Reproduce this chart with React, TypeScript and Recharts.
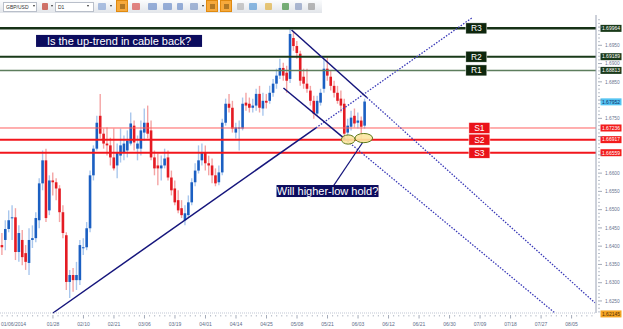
import React from 'react';
import { ComposedChart, Bar, XAxis, YAxis, ReferenceLine, ReferenceDot } from 'recharts';

// GBP/USD daily, trading day index 0 = 01/06/2014 (first candle is index 1)
const opens = [
  1.6403, 1.6417, 1.6447, 1.6477, 1.6479, 1.6384, 1.6417, 1.6381, 1.6354, 1.6417,
  1.6422, 1.6471, 1.6572, 1.6635, 1.6498, 1.6580, 1.6575, 1.6558, 1.6493, 1.6430,
  1.6302, 1.6321, 1.6307, 1.6307, 1.6395, 1.6397, 1.6449, 1.6594, 1.6667, 1.6757,
  1.6708, 1.6681, 1.6676, 1.6643, 1.6621, 1.6648, 1.6657, 1.6662, 1.6681, 1.6730,
  1.6667, 1.6667, 1.6711, 1.6738, 1.6717, 1.6643, 1.6621, 1.6613, 1.6621, 1.6643,
  1.6588, 1.6558, 1.6526, 1.6504, 1.6471, 1.6485, 1.6520, 1.6575, 1.6607, 1.6635,
  1.6657, 1.6627, 1.6621, 1.6594, 1.6575, 1.6602, 1.6738, 1.6790, 1.6779, 1.6711,
  1.6722, 1.6722, 1.6793, 1.6790, 1.6779, 1.6785, 1.6817, 1.6777, 1.6798, 1.6798,
  1.6820, 1.6845, 1.6867, 1.6888, 1.6875, 1.6858, 1.6970, 1.6948, 1.6927, 1.6864,
  1.6845, 1.6826, 1.6798, 1.6763, 1.6793, 1.6831, 1.6886, 1.6864, 1.6839, 1.6820,
  1.6804, 1.6790, 1.6711, 1.6727, 1.6757, 1.6738, 1.6744, 1.6730,
];
const highs = [
  1.6436, 1.6471, 1.6498, 1.6512, 1.6504, 1.6457, 1.6444, 1.6403, 1.6449, 1.6457,
  1.6493, 1.6586, 1.6662, 1.6667, 1.6594, 1.6602, 1.6586, 1.6567, 1.6512, 1.6438,
  1.6335, 1.6340, 1.6357, 1.6417, 1.6422, 1.6466, 1.6607, 1.6676, 1.6757, 1.6817,
  1.6722, 1.6725, 1.6697, 1.6722, 1.6681, 1.6722, 1.6703, 1.6717, 1.6766, 1.6744,
  1.6703, 1.6744, 1.6777, 1.6785, 1.6744, 1.6662, 1.6654, 1.6648, 1.6667, 1.6662,
  1.6607, 1.6580, 1.6553, 1.6526, 1.6512, 1.6539, 1.6586, 1.6627, 1.6676, 1.6681,
  1.6676, 1.6648, 1.6640, 1.6613, 1.6621, 1.6749, 1.6804, 1.6817, 1.6798, 1.6738,
  1.6744, 1.6807, 1.6820, 1.6807, 1.6804, 1.6831, 1.6839, 1.6820, 1.6817, 1.6839,
  1.6858, 1.6886, 1.6913, 1.6902, 1.6894, 1.6995, 1.6989, 1.6962, 1.6935, 1.6886,
  1.6886, 1.6839, 1.6812, 1.6812, 1.6831, 1.6913, 1.6916, 1.6880, 1.6853, 1.6839,
  1.6826, 1.6804, 1.6749, 1.6771, 1.6777, 1.6766, 1.6755, 1.6804,
];
const lows = [
  1.6376, 1.6389, 1.6438, 1.6417, 1.6362, 1.6357, 1.6348, 1.6335, 1.6321, 1.6395,
  1.6411, 1.6449, 1.6553, 1.6466, 1.6485, 1.6539, 1.6526, 1.6466, 1.6422, 1.6280,
  1.6258, 1.6275, 1.6280, 1.6294, 1.6376, 1.6389, 1.6438, 1.6580, 1.6662, 1.6695,
  1.6667, 1.6648, 1.6621, 1.6607, 1.6586, 1.6629, 1.6635, 1.6643, 1.6676, 1.6662,
  1.6635, 1.6648, 1.6689, 1.6695, 1.6635, 1.6594, 1.6567, 1.6580, 1.6613, 1.6580,
  1.6539, 1.6512, 1.6490, 1.6477, 1.6457, 1.6477, 1.6512, 1.6564, 1.6599, 1.6621,
  1.6607, 1.6594, 1.6572, 1.6564, 1.6567, 1.6594, 1.6730, 1.6766, 1.6711, 1.6695,
  1.6662, 1.6717, 1.6771, 1.6766, 1.6766, 1.6771, 1.6766, 1.6757, 1.6777, 1.6790,
  1.6809, 1.6831, 1.6858, 1.6853, 1.6820, 1.6847, 1.6935, 1.6913, 1.6839, 1.6831,
  1.6820, 1.6785, 1.6749, 1.6757, 1.6785, 1.6820, 1.6853, 1.6826, 1.6807, 1.6790,
  1.6766, 1.6692, 1.6692, 1.6717, 1.6725, 1.6722, 1.6692, 1.6722,
];
const closes = [
  1.6397, 1.6447, 1.6471, 1.6479, 1.6384, 1.6436, 1.6370, 1.6357, 1.6417, 1.6422,
  1.6477, 1.6572, 1.6635, 1.6477, 1.6580, 1.6575, 1.6558, 1.6493, 1.6436, 1.6302,
  1.6321, 1.6307, 1.6321, 1.6403, 1.6397, 1.6449, 1.6594, 1.6667, 1.6738, 1.6708,
  1.6681, 1.6676, 1.6643, 1.6613, 1.6657, 1.6676, 1.6681, 1.6689, 1.6736, 1.6684,
  1.6681, 1.6717, 1.6738, 1.6708, 1.6643, 1.6613, 1.6613, 1.6621, 1.6640, 1.6588,
  1.6553, 1.6520, 1.6498, 1.6485, 1.6490, 1.6520, 1.6575, 1.6607, 1.6635, 1.6657,
  1.6627, 1.6621, 1.6594, 1.6572, 1.6602, 1.6738, 1.6790, 1.6779, 1.6722, 1.6725,
  1.6725, 1.6790, 1.6785, 1.6779, 1.6785, 1.6817, 1.6779, 1.6798, 1.6793, 1.6820,
  1.6845, 1.6867, 1.6888, 1.6867, 1.6853, 1.6981, 1.6948, 1.6929, 1.6853, 1.6845,
  1.6831, 1.6798, 1.6763, 1.6798, 1.6820, 1.6886, 1.6867, 1.6839, 1.6820, 1.6798,
  1.6785, 1.6708, 1.6730, 1.6752, 1.6736, 1.6744, 1.6727, 1.6796,
];

// x axis labels (trading-day index -> text)
const xTickIdx = [0, 16, 25, 34, 43, 52, 61, 70, 79, 88, 97, 106, 115, 124, 133, 142, 151, 160, 169];
const xTickLabels = ['01/06/2014', '01/28', '02/10', '02/21', '03/06', '03/19', '04/01', '04/14', '04/25',
  '05/08', '05/21', '06/03', '06/12', '06/21', '06/30', '07/09', '07/18', '07/27', '08/05'];

const yTickLabels = [1.625, 1.63, 1.635, 1.64, 1.645, 1.65, 1.655, 1.66, 1.665, 1.67, 1.675, 1.68, 1.685, 1.69, 1.695, 1.7];
const yHiddenLabels = [1.665, 1.67, 1.68, 1.7];

// support / resistance
const levelTags = ['R3', 'R2', 'R1', 'S1', 'S2', 'S3'];
const levelPrices = [1.69964, 1.69189, 1.68813, 1.67236, 1.66917, 1.66559];
const lastPrice = 1.67952;
const lowPrice = 1.62145;

// trend lines in (day index, price)
const upTrend = [{ x: 16, y: 1.6217 }, { x: 93.6, y: 1.6724 }, { x: 139.6, y: 1.7025 }];
const channelTop = [{ x: 86.4, y: 1.6992 }, { x: 108.6, y: 1.6807 }, { x: 175.9, y: 1.6245 }];
const channelBottom = [{ x: 84.0, y: 1.6833 }, { x: 102.2, y: 1.6693 }, { x: 164.1, y: 1.6217 }];
const pointer = [{ x: 98.6, y: 1.6563 }, { x: 107.5, y: 1.6686 }];
const lowMarks = [{ x: 103.1, y: 1.6692 }, { x: 107.7, y: 1.6696 }];

const candles = opens.map((o, i) => ({
  idx: i + 1,
  open: o,
  high: highs[i],
  low: lows[i],
  close: closes[i],
}));

const xMinor: number[] = [];
for (let v = 1; v < 176; v += 1.5) xMinor.push(v);
const xTicksAll = [...xTickIdx, ...xMinor.filter((v) => !xTickIdx.includes(v))];

const yMinor: number[] = [];
yTickLabels.forEach((t) => [0.001, 0.002, 0.003, 0.004].forEach((d) => yMinor.push(+(t + d).toFixed(3))));
const yTicksAll = [...yTickLabels, 1.622, 1.623, 1.624, ...yMinor.filter((v) => v < 1.703)];

const levelLine = ['#163216', '#193a19', '#5c7d5c', '#ff6060', '#f2161c', '#f2161c'];
const levelWidth = [2.5, 2, 1.5, 1, 2, 2];
const levelTagBg = ['#0d260d', '#0d260d', '#0d260d', '#ea1219', '#ea1219', '#ea1219'];
const levelBoxBg = ['#1a3a1a', '#1a3a1a', '#1a3a1a', '#f31c1c', '#f31c1c', '#f31c1c'];
const NAVY = '#15157c';

const Candle = (props: any) => {
  const { x, y, width, height, payload } = props;
  if (!payload || x == null || y == null) return null;
  const { open, high, low, close } = payload;
  const top = Math.min(y, y + height);
  const h = Math.abs(height);
  const span = high - low || 1e-9;
  const py = (p: number) => top + ((high - p) / span) * h;
  const cx = x + width / 2;
  const up = close >= open;
  const bTop = py(Math.max(open, close));
  const bBot = py(Math.min(open, close));
  return (
    <g>
      <line x1={cx} x2={cx} y1={top} y2={top + h} stroke={up ? '#a9c7ed' : '#f4a4a4'} strokeWidth={1.4} />
      <rect x={cx - 1.3} y={bTop} width={2.6} height={Math.max(1, bBot - bTop)} fill={up ? '#1b5fc2' : '#e41b23'} />
    </g>
  );
};

const XTick = (props: any) => {
  const { x, y, payload } = props;
  const k = xTickIdx.indexOf(payload.value);
  if (k < 0) {
    return <line x1={x} x2={x} y1={y} y2={y + 1.5} stroke="#8a93a6" strokeWidth={0.6} />;
  }
  const first = k === 0;
  return (
    <g>
      <line x1={x} x2={x} y1={y} y2={y + 3.5} stroke="#7d879b" strokeWidth={0.7} />
      <text x={first ? 1 : x} y={y + 11} fontSize={5} fill="#5d6b88" textAnchor={first ? 'start' : 'middle'}>{xTickLabels[k]}</text>
    </g>
  );
};

const YTick = (props: any) => {
  const { x, y, payload } = props;
  const v = payload.value;
  const major = yTickLabels.includes(v);
  if (!major) {
    return <line x1={x} x2={x + 2} y1={y} y2={y} stroke="#8a93a6" strokeWidth={0.6} />;
  }
  const show = !yHiddenLabels.includes(v);
  return (
    <g>
      <line x1={x} x2={x + 4} y1={y} y2={y} stroke="#7d879b" strokeWidth={0.7} />
      {show && (
        <text x={x + 7} y={y + 1.7} fontSize={4.8} fill="#6a7590">{v.toFixed(4)}</text>
      )}
    </g>
  );
};

const PriceBox = (props: any) => {
  const { viewBox, text, bg, fg } = props;
  if (!viewBox) return null;
  const x = viewBox.x + viewBox.width + 4.5;
  const y = viewBox.y;
  return (
    <g>
      <rect x={x} y={y - 3.5} width={21} height={7} fill={bg} />
      <text x={x + 10.5} y={y + 1.8} fontSize={5} fill={fg} textAnchor="middle">{text}</text>
    </g>
  );
};

const Tag = (props: any) => {
  const { cx, cy, text, bg } = props;
  if (cx == null) return null;
  return (
    <g>
      <rect x={cx - 10.5} y={cy - 5.5} width={21} height={11} fill={bg} stroke="#fff" strokeWidth={0.5} />
      <text x={cx} y={cy + 3} fontSize={8.5} fill="#fff" textAnchor="middle">{text}</text>
    </g>
  );
};

const Note = (props: any) => {
  const { cx, cy, text, w } = props;
  if (cx == null) return null;
  return (
    <g>
      <rect x={cx - w / 2} y={cy - 6} width={w} height={12} fill="#0c0c5e" />
      <text x={cx} y={cy + 4} fontSize={11} fill="#fff" textAnchor="middle">{text}</text>
    </g>
  );
};

const LowMark = (props: any) => {
  const { cx, cy, rx } = props;
  if (cx == null) return null;
  return <ellipse cx={cx} cy={cy} rx={rx} ry={4.6} fill="#fbe6a0" fillOpacity={0.9} stroke="#5f7a1c" strokeWidth={1} />;
};

const toolIcons = [
  { x: 42, w: 6, c: '#c0392b' }, { x: 98, w: 8, c: '#8aa6d6' }, { x: 132, w: 8, c: '#d9534f' },
  { x: 148, w: 9, c: '#6d8fc9' }, { x: 163, w: 9, c: '#6d8fc9' }, { x: 177, w: 6, c: '#6d8fc9' },
  { x: 190, w: 8, c: '#7f99c6' }, { x: 237, w: 7, c: '#b5b5b5' }, { x: 249, w: 8, c: '#5b9bd5' },
  { x: 265, w: 7, c: '#e0b040' }, { x: 282, w: 7, c: '#3f8f3f' }, { x: 295, w: 7, c: '#8a9bc0' },
  { x: 308, w: 7, c: '#9a9a9a' },
];
const toolOn = [116, 206, 220];

const Toolbar = () => (
  <div style={{ position: 'absolute', left: 0, top: 0, width: 322, height: 13, background: 'linear-gradient(#fbfcfd, #e2e5ea)' }}>
    <div style={{ position: 'absolute', left: 3, top: 2, width: 30, height: 8, background: '#fff', border: '1px solid #b9bfca', fontSize: 5, lineHeight: '8px', paddingLeft: 2, color: '#333' }}>GBP/USD</div>
    <div style={{ position: 'absolute', left: 55, top: 2, width: 35, height: 8, background: '#fff', border: '1px solid #b9bfca', fontSize: 5, lineHeight: '8px', paddingLeft: 2, color: '#333' }}>D1</div>
    {[33, 51, 87, 110, 202].map((x) => (
      <div key={x} style={{ position: 'absolute', left: x, top: 5, width: 0, height: 0, borderLeft: '1.5px solid transparent', borderRight: '1.5px solid transparent', borderTop: '2px solid #333' }} />
    ))}
    {toolOn.map((x) => (
      <div key={x} style={{ position: 'absolute', left: x, top: 0, width: 12, height: 12, background: '#f6a93b', border: '1px solid #e08a10', boxSizing: 'border-box' }}>
        <div style={{ position: 'absolute', left: 3, top: 3, width: 5, height: 5, background: '#6b4a10', opacity: 0.5 }} />
      </div>
    ))}
    {toolIcons.map((t) => (
      <div key={t.x} style={{ position: 'absolute', left: t.x, top: 3, width: t.w, height: 7, background: t.c, opacity: 0.7, borderRadius: 1 }} />
    ))}
  </div>
);

export default function App() {
  return (
    <div style={{ position: 'absolute', left: 0, top: 0, width: 623, height: 329, background: '#fff', overflow: 'hidden', fontFamily: '"Liberation Sans", Arial, sans-serif' }}>
      <ComposedChart width={623} height={329} data={candles} margin={{ top: 15, right: 0, bottom: 0, left: 0 }}>
        <XAxis dataKey="idx" type="number" domain={[0.38, 176.2]} allowDataOverflow ticks={xTicksAll} interval={0}
          tick={<XTick />} tickLine={false} tickSize={0} height={16} axisLine={{ stroke: '#c1c7d4', strokeDasharray: '1 1' }} />
        <YAxis orientation="right" type="number" domain={[1.6217, 1.7033]} allowDataOverflow ticks={yTicksAll} interval={0}
          tick={<YTick />} tickLine={false} tickSize={0} width={27} axisLine={{ stroke: '#9aa2b4' }} />

        {levelPrices.map((p, i) => (
          <ReferenceLine key={levelTags[i]} y={p} stroke={levelLine[i]} strokeWidth={levelWidth[i]} ifOverflow="visible"
            label={<PriceBox text={p.toFixed(5)} bg={levelBoxBg[i]} fg="#fff" />} />
        ))}
        <ReferenceLine y={lastPrice} stroke="none" ifOverflow="visible" label={<PriceBox text={lastPrice.toFixed(5)} bg="#55c4f2" fg="#10306a" />} />
        <ReferenceLine y={lowPrice} stroke="none" ifOverflow="visible" label={<PriceBox text={lowPrice.toFixed(5)} bg="#f5a524" fg="#5a3000" />} />

        <Bar dataKey={(d: any) => [d.low, d.high]} shape={<Candle />} barSize={3} isAnimationActive={false} />

        <ReferenceLine segment={[upTrend[0], upTrend[1]]} stroke={NAVY} strokeWidth={1.5} ifOverflow="visible" />
        <ReferenceLine segment={[upTrend[1], upTrend[2]]} stroke="#3a3ab8" strokeWidth={1.3} strokeDasharray="1.5 1.5" ifOverflow="visible" />
        <ReferenceLine segment={[channelTop[0], channelTop[1]]} stroke={NAVY} strokeWidth={1.5} ifOverflow="visible" />
        <ReferenceLine segment={[channelTop[1], channelTop[2]]} stroke="#3a3ab8" strokeWidth={1.3} strokeDasharray="1.5 1.5" ifOverflow="visible" />
        <ReferenceLine segment={[channelBottom[0], channelBottom[1]]} stroke={NAVY} strokeWidth={1.5} ifOverflow="visible" />
        <ReferenceLine segment={[channelBottom[1], channelBottom[2]]} stroke="#3a3ab8" strokeWidth={1.3} strokeDasharray="1.5 1.5" ifOverflow="visible" />
        <ReferenceLine segment={[pointer[0], pointer[1]]} stroke={NAVY} strokeWidth={1.2} ifOverflow="visible" />

        <ReferenceDot x={lowMarks[0].x} y={lowMarks[0].y} r={0} ifOverflow="visible" shape={(p: any) => <LowMark {...p} rx={6.8} />} />
        <ReferenceDot x={lowMarks[1].x} y={lowMarks[1].y} r={0} ifOverflow="visible" shape={(p: any) => <LowMark {...p} rx={8.8} />} />

        {levelPrices.map((p, i) => (
          <ReferenceDot key={'t' + i} x={i < 3 ? 140.9 : 141.8} y={p} r={0} ifOverflow="visible"
            shape={(s: any) => <Tag {...s} text={levelTags[i]} bg={levelTagBg[i]} />} />
        ))}

        <ReferenceDot x={35.5} y={1.6962} r={0} ifOverflow="visible"
          shape={(s: any) => <Note {...s} text="Is the up-trend in cable back?" w={166} />} />
        <ReferenceDot x={97.0} y={1.6551} r={0} ifOverflow="visible"
          shape={(s: any) => <Note {...s} text="Will higher-low hold?" w={102} />} />
      </ComposedChart>
      <Toolbar />
    </div>
  );
}
